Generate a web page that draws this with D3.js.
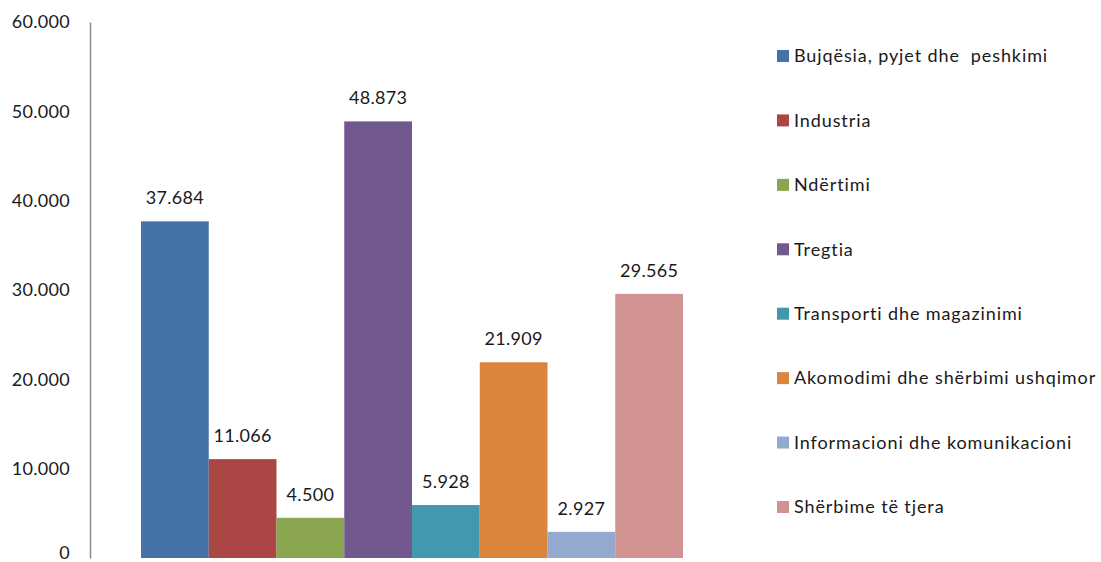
<!DOCTYPE html>
<html><head><meta charset="utf-8">
<script src="https://cdn.jsdelivr.net/npm/d3@7"></script>
<style>body{margin:0;background:#fff}svg{display:block}text{font-family:Lato,"Open Sans",sans-serif;fill:#1a1a1a}</style>
</head><body><svg id="c" width="1101" height="562"></svg>
<script>
const categories = ["Bujqësia, pyjet dhe  peshkimi","Industria","Ndërtimi","Tregtia","Transporti dhe magazinimi","Akomodimi dhe shërbimi ushqimor","Informacioni dhe komunikacioni","Shërbime të tjera"];
const values = [37684, 11066, 4500, 48873, 5928, 21909, 2927, 29565];
const valueLabels = ["37.684","11.066","4.500","48.873","5.928","21.909","2.927","29.565"];
const colors = ["#4572A7","#AA4643","#89A54E","#71588F","#4198AF","#DB843D","#93A9CF","#D19392"];
const tickValues = [0,10000,20000,30000,40000,50000,60000];
const tickLabels = ["0","10.000","20.000","30.000","40.000","50.000","60.000"];

const svg = d3.select("#c");
const y = d3.scaleLinear().domain([0,60000]).range([558,22]);
const x = d3.scaleBand().domain(categories).range([141,683]).padding(0);

// axis
const ax = svg.append("g").attr("transform","translate(90,0)")
  .call(d3.axisLeft(y).tickValues(tickValues).tickSize(0).tickPadding(20)
    .tickFormat((d,i)=>tickLabels[i]));
ax.select(".domain").attr("stroke","#8c8c8c").attr("stroke-width",1.5);
ax.selectAll("text").style("font-size","18px").style("font-family","Lato,sans-serif")
  .style("letter-spacing","0.3px").attr("fill","#1a1a1a");
// keep the bottom "0" label inside the picture
ax.selectAll(".tick").filter(d=>d===0).select("text").attr("dy","0.05em");

svg.append("g").selectAll("rect").data(values).join("rect")
  .attr("x",(d,i)=>x(categories[i])).attr("width",x.bandwidth())
  .attr("y",d=>y(d)).attr("height",d=>y(0)-y(d))
  .attr("fill",(d,i)=>colors[i]);

svg.append("g").selectAll("text").data(values).join("text")
  .attr("x",(d,i)=>x(categories[i])+x.bandwidth()/2)
  .attr("y",d=>y(d)-17)
  .attr("text-anchor","middle").style("font-size","18px").style("letter-spacing","0.3px")
  .text((d,i)=>valueLabels[i]);

const leg = d3.scaleLinear().domain([0,7]).range([56,507]);
const lg = svg.append("g").selectAll("g").data(categories).join("g")
  .attr("transform",(d,i)=>`translate(777,${leg(i)})`);
lg.append("rect").attr("x",0).attr("y",-6).attr("width",12).attr("height",12).attr("fill",(d,i)=>colors[i]);
lg.append("text").attr("x",17).attr("y",0).attr("dy","0.35em").style("font-size","18px")
  .style("letter-spacing","0.9px").style("white-space","pre").attr("xml:space","preserve").text(d=>d);
</script></body></html>
